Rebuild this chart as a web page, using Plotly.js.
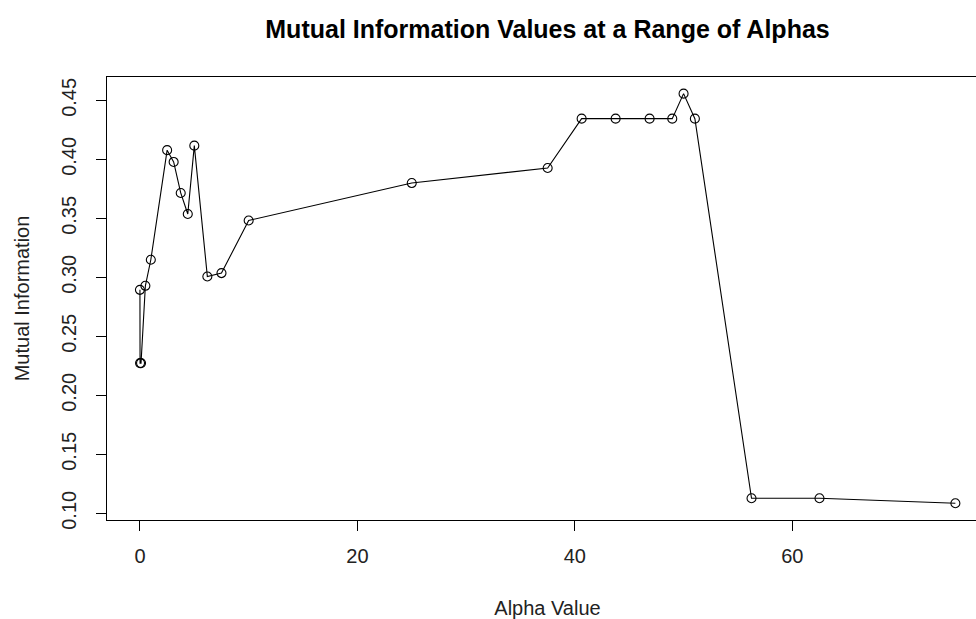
<!DOCTYPE html>
<html>
<head>
<meta charset="utf-8">
<script src="https://cdn.plot.ly/plotly-3.0.1.min.js"></script>
<style>
html, body { margin: 0; padding: 0; overflow: hidden; background: #fff; width: 976px; height: 619px; }
#chart { width: 990px; height: 619px; }
</style>
</head>
<body>
<div id="chart"></div>
<script>
const alphas = [0, 0.01, 0.1, 0.5, 1, 2.5, 3.1, 3.75, 4.4, 5, 6.2, 7.5, 10, 25, 37.5, 40.625, 43.75, 46.875, 48.96, 50, 51.04, 56.25, 62.5, 75];
const mutualInfo = [0.2894, 0.2273, 0.2273, 0.2928, 0.3149, 0.4078, 0.3978, 0.3715, 0.3537, 0.4116, 0.3007, 0.3036, 0.3482, 0.3799, 0.3927, 0.4345, 0.4345, 0.4345, 0.4345, 0.4557, 0.4345, 0.1127, 0.1127, 0.1085];
const xTicks = [0, 20, 40, 60];
const yTicks = [0.10, 0.15, 0.20, 0.25, 0.30, 0.35, 0.40, 0.45];
const yTickLabels = ["0.10", "0.15", "0.20", "0.25", "0.30", "0.35", "0.40", "0.45"];

const FONT = "Liberation Sans, Arial, sans-serif";

const trace = {
  x: alphas,
  y: mutualInfo,
  type: "scatter",
  mode: "lines+markers",
  line: { color: "#000", width: 1.1 },
  marker: { symbol: "circle-open", size: 9, color: "#000", line: { width: 1.1, color: "#000" } },
  hoverinfo: "x+y"
};

const layout = {
  width: 990,
  height: 619,
  margin: { l: 107, r: 2, t: 77, b: 99 },
  paper_bgcolor: "#fff",
  plot_bgcolor: "#fff",
  showlegend: false,
  font: { family: FONT, size: 20, color: "#111" },
  title: {
    text: "<b>Mutual Information Values at a Range of Alphas</b>",
    font: { family: FONT, size: 25, color: "#000" },
    x: 0.5, xref: "paper",
    y: 1 - 29 / 619, yref: "container", yanchor: "middle"
  },
  xaxis: {
    range: [-3.03, 78],
    tickmode: "array",
    tickvals: xTicks,
    ticktext: xTicks.map(String),
    ticks: "outside",
    ticklen: 10,
    tickwidth: 1,
    tickcolor: "#000",
    ticklabelstandoff: 8,
    showgrid: false,
    zeroline: false,
    showline: true,
    linecolor: "#000",
    linewidth: 1,
    mirror: true,
    tickfont: { family: FONT, size: 20, color: "#222" },
    title: { text: "Alpha Value", font: { family: FONT, size: 20, color: "#222" }, standoff: 34 }
  },
  yaxis: {
    range: [0.0943, 0.4698],
    tickmode: "array",
    tickvals: yTicks,
    ticktext: yTickLabels,
    tickangle: -90,
    ticks: "outside",
    ticklen: 10,
    tickwidth: 1,
    tickcolor: "#000",
    ticklabelstandoff: 12,
    showgrid: false,
    zeroline: false,
    showline: true,
    linecolor: "#000",
    linewidth: 1,
    mirror: true,
    tickfont: { family: FONT, size: 20, color: "#222" },
    title: { text: "Mutual Information", font: { family: FONT, size: 20, color: "#222" }, standoff: 23 }
  }
};

Plotly.newPlot("chart", [trace], layout, { displayModeBar: false, staticPlot: true });
</script>
</body>
</html>
